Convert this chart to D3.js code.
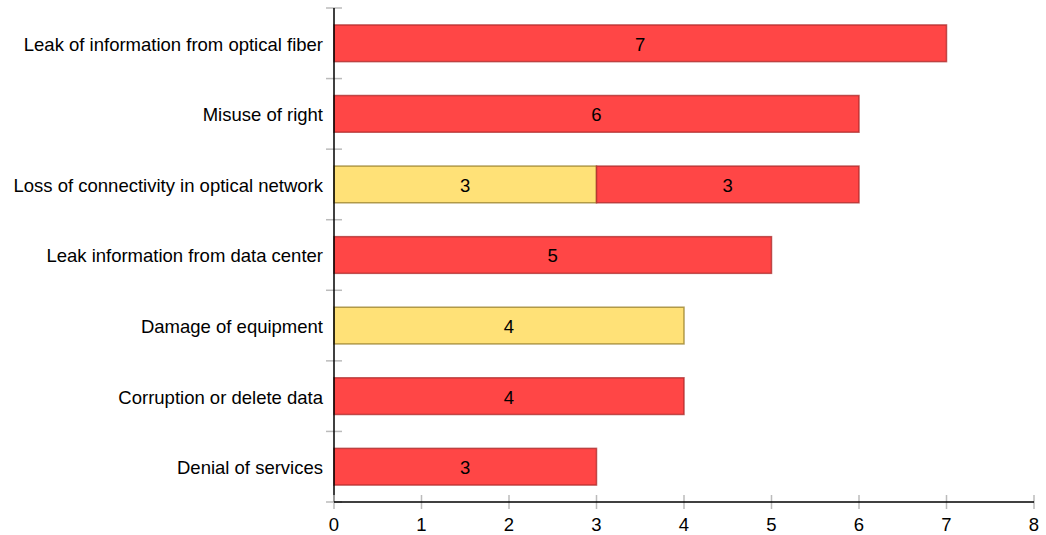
<!DOCTYPE html>
<html>
<head>
<meta charset="utf-8">
<script src="https://cdn.jsdelivr.net/npm/d3@7"></script>
<style>
  body { margin: 0; background: #fff; }
  svg { display: block; font-family: "Liberation Sans", Arial, Helvetica, sans-serif; }
</style>
</head>
<body>
<svg id="chart" width="1046" height="535"></svg>
<script>
const categories = [
  "Leak of information from optical fiber",
  "Misuse of right",
  "Loss of connectivity in optical network",
  "Leak information from data center",
  "Damage of equipment",
  "Corruption or delete data",
  "Denial of services"
];
const seriesNames = ["Medium", "High"];
const mediumValues = [0, 0, 3, 0, 4, 0, 0];
const highValues = [7, 6, 3, 5, 0, 4, 3];
const xTicks = [0, 1, 2, 3, 4, 5, 6, 7, 8];
const fills = ["#ffe177", "#ff4646"];
const strokes = ["rgba(150,125,40,0.75)", "rgba(170,40,40,0.75)"];

const fontSize = 18.5;
const margin = { top: 8, left: 334, right: 12, bottom: 33 };
const width = 1046, height = 535;
const svg = d3.select("#chart");

const x = d3.scaleLinear().domain([0, 8]).range([margin.left, width - margin.right]);
const y = d3.scaleBand().domain(categories).range([margin.top, height - margin.bottom]).paddingInner(0.48).paddingOuter(0.24);

const rows = categories.map((c, i) => ({ cat: c, Medium: mediumValues[i], High: highValues[i] }));
const stack = d3.stack().keys(seriesNames)(rows);

// bars
stack.forEach((layer, li) => {
  const g = svg.append("g");
  layer.forEach(d => {
    const v = d[1] - d[0];
    if (v <= 0) return;
    g.append("rect")
      .attr("x", x(d[0]))
      .attr("y", y(d.data.cat))
      .attr("width", x(d[1]) - x(d[0]))
      .attr("height", y.bandwidth())
      .attr("fill", fills[li])
      .attr("stroke", strokes[li])
      .attr("stroke-width", 1.5);
    g.append("text")
      .attr("x", (x(d[0]) + x(d[1])) / 2)
      .attr("y", y(d.data.cat) + y.bandwidth() / 2)
      .attr("dy", "0.4em")
      .attr("text-anchor", "middle")
      .attr("font-size", fontSize)
      .attr("fill", "#000")
      .text(v);
  });
});

// y axis
const step = y.step();
const bounds = d3.range(categories.length + 1).map(i => margin.top + i * step);
const yAxis = svg.append("g");
yAxis.selectAll("line.tk").data(bounds).join("line")
  .attr("x1", margin.left - 8).attr("x2", margin.left + 8)
  .attr("y1", d => d).attr("y2", d => d)
  .attr("stroke", "#bbb").attr("stroke-width", 1.5);
yAxis.append("line")
  .attr("x1", margin.left).attr("x2", margin.left)
  .attr("y1", margin.top).attr("y2", height - margin.bottom)
  .attr("stroke", "#000").attr("stroke-width", 1.5);
yAxis.selectAll("text").data(categories).join("text")
  .attr("x", margin.left - 11)
  .attr("y", d => y(d) + y.bandwidth() / 2)
  .attr("dy", "0.4em")
  .attr("text-anchor", "end")
  .attr("font-size", fontSize)
  .attr("fill", "#000")
  .text(d => d);

// x axis
const x0 = height - margin.bottom;
const xAxis = svg.append("g");
xAxis.selectAll("line.tk").data(xTicks).join("line")
  .attr("x1", d => x(d)).attr("x2", d => x(d))
  .attr("y1", x0 - 7).attr("y2", x0 + 7)
  .attr("stroke", "#bbb").attr("stroke-width", 1.5);
xAxis.append("line")
  .attr("x1", margin.left).attr("x2", x(8))
  .attr("y1", x0).attr("y2", x0)
  .attr("stroke", "#000").attr("stroke-width", 1.5);
xAxis.selectAll("text").data(xTicks).join("text")
  .attr("x", d => x(d))
  .attr("y", x0 + 29)
  .attr("text-anchor", "middle")
  .attr("font-size", fontSize)
  .attr("fill", "#000")
  .text(d => d);
</script>
</body>
</html>
